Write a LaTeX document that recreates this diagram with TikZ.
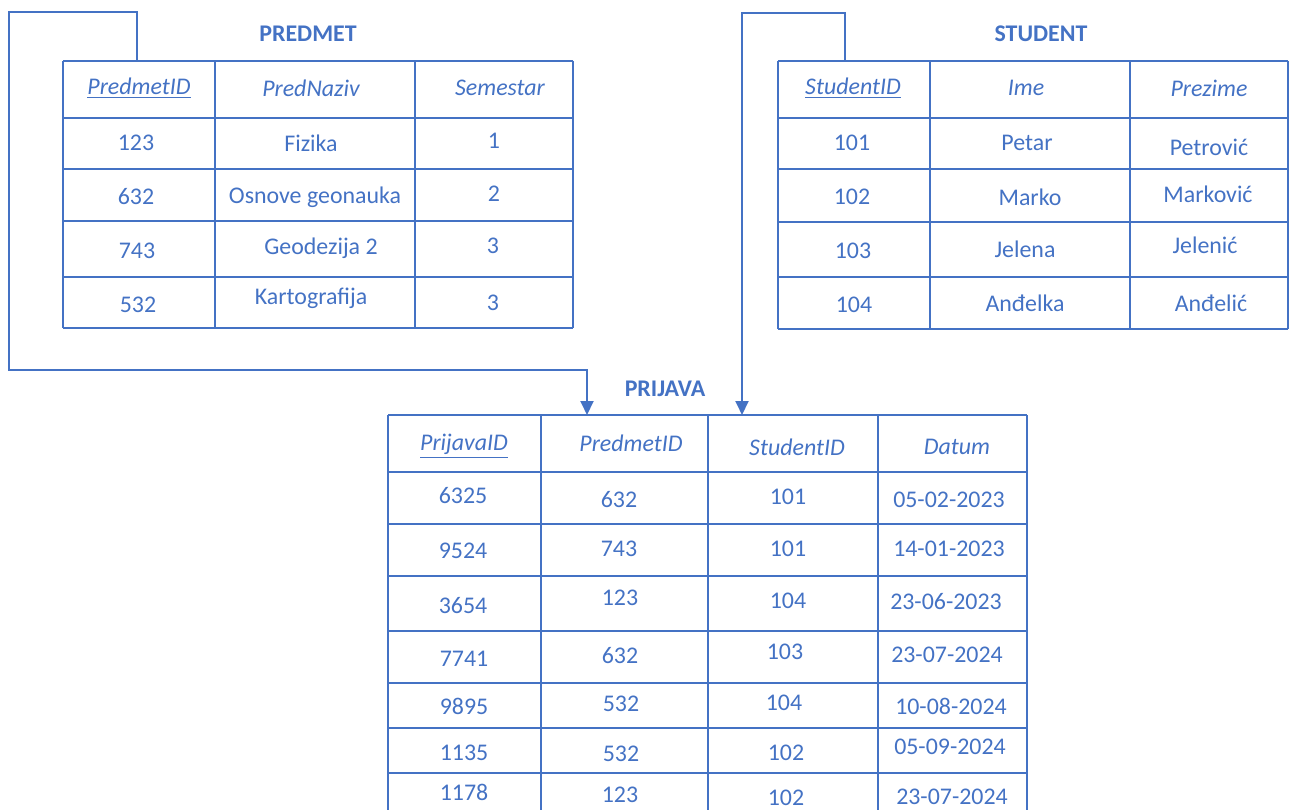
\documentclass[tikz,border=0pt]{standalone}
\usepackage{fontspec}
\setmainfont{Carlito}
\usetikzlibrary{arrows.meta}
\definecolor{dbblue}{RGB}{68,114,196}

\begin{document}
\begin{tikzpicture}[x=0.02cm, y=-0.02cm, >={Triangle[length=2.8mm, width=2.6mm]},
  grid/.style={draw=dbblue, line width=1.1pt},
  cell/.style={text=dbblue, inner sep=0pt, font=\fontsize{13.6}{16}\selectfont},
  head/.style={cell, font=\fontsize{13.6}{16}\selectfont\itshape},
  title/.style={cell, font=\fontsize{13.6}{16}\selectfont\bfseries},
  link/.style={draw=dbblue, line width=1.1pt, ->}]
  \useasboundingbox (0,0) rectangle (1293,810);

  % PREDMET
  \foreach \y in {61,118,169,221,277,328} \draw[grid] (63,\y) -- (573,\y);
  \foreach \x in {63,215,415,573} \draw[grid] (\x,61) -- (\x,328);
  \node[title] (tP) at (308,34) {PREDMET};
  \node[head] (hP1) at (139,88) {\underline{PredmetID}};
  \node[head] (hP2) at (311,88) {PredNaziv};
  \node[head] (hP3) at (500,88) {Semestar};
  \foreach \n/\x/\y/\t in {p11/136/143/123, p12/311/143/Fizika, p13/494/141/1,
      p21/136/197/632, p22/315/197/Osnove geonauka, p23/494/194/2,
      p31/137/251/743, p32/321/248/Geodezija 2, p33/493/246/3,
      p41/138/305/532, p42/311/298/Kartografija, p43/493/303/3}
    \node[cell] (\n) at (\x,\y) {\t};

  % STUDENT
  \foreach \y in {61,118,169,222,277,329} \draw[grid] (778,\y) -- (1288,\y);
  \foreach \x in {778,930,1130,1288} \draw[grid] (\x,61) -- (\x,329);
  \node[title] (tS) at (1041,34) {STUDENT};
  \node[head] (hS1) at (853,88) {\underline{StudentID}};
  \node[head] (hS2) at (1026,88) {Ime};
  \node[head] (hS3) at (1209,88) {Prezime};
  \foreach \n/\x/\y/\t in {s11/852/143/101, s12/1027/143/Petar, s13/1209/147/Petrović,
      s21/852/197/102, s22/1030/197/Marko, s23/1208/194/Marković,
      s31/853/251/103, s32/1025/249/Jelena, s33/1205/245/Jelenić,
      s41/854/305/104, s42/1025/303/Anđelka, s43/1211/303/Anđelić}
    \node[cell] (\n) at (\x,\y) {\t};

  % PRIJAVA
  \foreach \y in {415,472,524,576,631,683,728,773} \draw[grid] (388,\y) -- (1027,\y);
  \foreach \x in {388,541,708,878,1027} \draw[grid] (\x,415) -- (\x,810);
  \node[title] (tR) at (665,389) {PRIJAVA};
  \node[head] (hR1) at (464,446) {\underline{PrijavaID}};
  \node[head] (hR2) at (631,443) {PredmetID};
  \node[head] (hR3) at (797,447) {StudentID};
  \node[head] (hR4) at (957,447) {Datum};
  \foreach \n/\x/\y/\t in {r11/463/496/6325, r12/619/500/632, r13/788/497/101, r14/949/500/05-02-2023,
      r21/463/551/9524, r22/619/549/743, r23/788/549/101, r24/949/549/14-01-2023,
      r31/463/606/3654, r32/620/598/123, r33/788/601/104, r34/946/602/23-06-2023,
      r41/464/659/7741, r42/620/656/632, r43/785/652/103, r44/947/655/23-07-2024,
      r51/464/706/9895, r52/621/704/532, r53/784/703/104, r54/951/706/10-08-2024,
      r61/464/753/1135, r62/621/754/532, r63/786/753/102, r64/950/747/05-09-2024,
      r71/464/792/1178, r72/620/795/123, r73/786/798/102, r74/952/797/23-07-2024}
    \node[cell] (\n) at (\x,\y) {\t};

  % veze
  \coordinate (pkP) at (137,61);
  \coordinate (pkS) at (845,61);
  \coordinate (fkP) at (587,415);
  \coordinate (fkS) at (742,415);
  \draw[link] (pkP) |- (9,12) -- (9,370) -| (fkP);
  \draw[link] (pkS) |- (742,13) -- (fkS);
\end{tikzpicture}
\end{document}
